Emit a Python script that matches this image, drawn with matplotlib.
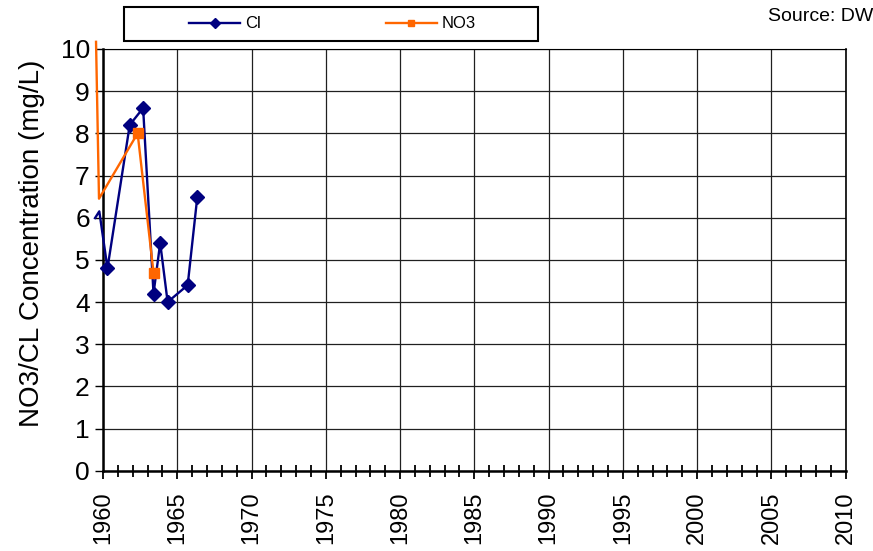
import matplotlib
matplotlib.use('Agg')
import matplotlib.pyplot as plt
from matplotlib.patches import Rectangle
from matplotlib.ticker import MultipleLocator

plt.rcParams['font.family'] = ['Liberation Sans', 'DejaVu Sans']

# Cl series (first two points sit just left of the 1960 axis)
cl_years = [1959.46, 1959.75, 1960.3, 1961.8, 1962.7, 1963.4, 1963.85, 1964.35, 1965.7, 1966.35]
cl_vals = [5.99, 6.15, 4.8, 8.2, 8.6, 4.2, 5.4, 4.0, 4.4, 6.5]

# NO3 series
no3_years = [1959.53, 1959.73, 1962.33, 1963.4]
no3_vals = [10.17, 6.45, 8.0, 4.7]

x_ticks = list(range(1960, 2011, 5))
y_ticks = list(range(0, 11))

blue = '#000080'
orange = '#FF6600'

fig = plt.figure(figsize=(8.73, 5.51), dpi=100)
ax = fig.add_axes([0.118, 0.1457, 0.8507, 0.7654])

ax.plot(cl_years, cl_vals, color=blue, lw=1.7, marker='D', ms=7.2,
        markevery=[i for i, x in enumerate(cl_years) if x >= 1960],
        clip_on=False, zorder=3, label='Cl')
ax.plot(no3_years, no3_vals, color=orange, lw=1.7, marker='s', ms=7,
        markevery=[i for i, x in enumerate(no3_years) if x >= 1960],
        clip_on=False, zorder=4, label='NO3')

ax.set_xlim(1960, 2010)
ax.set_ylim(0, 10)
ax.set_xticks(x_ticks)
ax.set_yticks(y_ticks)
ax.xaxis.set_minor_locator(MultipleLocator(1))
ax.grid(True, which='major', color='#202020', lw=0.9)
ax.set_axisbelow(True)

for s in ['left', 'bottom']:
    ax.spines[s].set_linewidth(1.8)
ax.spines['right'].set_linewidth(1.2)
ax.spines['top'].set_linewidth(0.8)

ax.tick_params(axis='x', which='major', direction='out', length=6, width=1.3,
               labelsize=17, pad=9, labelrotation=90)
ax.tick_params(axis='x', which='minor', direction='inout', length=9, width=1.3)
ax.tick_params(axis='y', which='major', direction='out', length=6, width=1,
               labelsize=19, pad=3.5)

ax.set_ylabel('NO3/CL Concentration (mg/L)', fontsize=20)
ax.yaxis.set_label_coords(-0.078, 0.539)

# legend box at top
fig.add_artist(Rectangle((124 / 873, 1 - 41 / 551), 414 / 873, 34 / 551,
                         transform=fig.transFigure, fill=False,
                         edgecolor='black', lw=1.5))
h, l = ax.get_legend_handles_labels()
fig.legend(h, l, ncol=2, loc='center left', bbox_to_anchor=(189 / 873, 1 - 24 / 551),
           frameon=False, fontsize=12, handlelength=3.06, handletextpad=0.3,
           columnspacing=7.5, borderpad=0, borderaxespad=0, markerscale=0.65)

fig.text(768 / 873, 1 - 21 / 551, 'Source: DW', fontsize=14, va='baseline', ha='left')

fig.savefig('out.png', dpi=100)
